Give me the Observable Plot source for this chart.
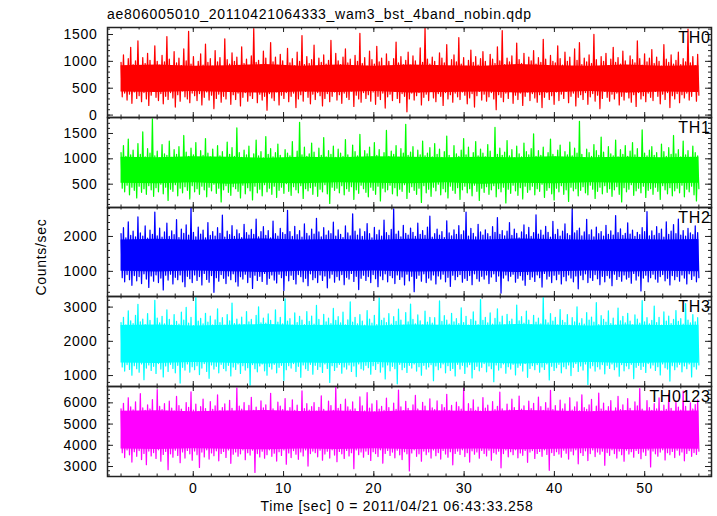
<!DOCTYPE html>
<html>
<head>
<meta charset="utf-8">
<script src="https://cdn.jsdelivr.net/npm/d3@7"></script>
<script src="https://cdn.jsdelivr.net/npm/@observablehq/plot@0.6"></script>
<style>
  html, body { margin: 0; padding: 0; background: #fff; }
  #wrap { position: relative; width: 717px; height: 516px; overflow: hidden; font-family: "Liberation Sans", Arial, sans-serif; color: #000; }
  .lbl { position: absolute; white-space: nowrap; font-size: 14px; line-height: 14px; letter-spacing: 0.7px; }
  #wrap svg { position: absolute; left: 0; overflow: visible; }
</style>
</head>
<body>
<div id="wrap">
  <div class="lbl" id="title" style="left:107px; top:7px;">ae806005010_20110421064333_wam3_bst_4band_nobin.qdp</div>
  <div class="lbl" id="ylab" style="left:41px; top:257px; transform: translate(-50%,-50%) rotate(-90deg);">Counts/sec</div>
  <div class="lbl" id="xlab" style="left:397px; top:499px; transform: translateX(-50%);">Time [sec] 0 = 2011/04/21 06:43:33.258</div>
</div>
<script>
// ---- sampling grid (time, s) ----
const tStart = -8;
const tStep = 64 / 479;
const coreTimes = [-8, -4, 0, 4, 8, 12, 16, 20, 24, 28, 32, 36, 40, 44, 48, 52, 56];

// ---- panel names / colours ----
const panelNames = ["TH0", "TH1", "TH2", "TH3", "TH0123"];
const panelColors = ["#ff0000", "#00ff00", "#0000ff", "#00ffff", "#ff00ff"];

// ---- y domains and tick labels ----
const yDomains = [[-45, 1630], [40, 1815], [280, 2830], [680, 3310], [2530, 6770]];
const yTicks0 = [0, 500, 1000, 1500];
const yTicks1 = [500, 1000, 1500];
const yTicks2 = [1000, 2000];
const yTicks3 = [1000, 2000, 3000];
const yTicks4 = [3000, 4000, 5000, 6000];
const yMinorSteps = [100, 100, 200, 200, 200];
const xTicks = [0, 10, 20, 30, 40, 50];
const xMinorStep = 2;
const xDomain = [-9.5, 57.4];

// ---- count rates (counts/sec) ----
const th0 = [980,340,1120,410,910,280,1050,390,1260,220,940,430,1010,310,1380,360,890,250,1070,420,
960,300,1150,180,1020,370,880,440,1290,330,1000,270,930,400,1110,210,990,350,1460,290,
1040,420,900,320,1180,150,970,380,1060,260,920,450,1230,340,1010,300,1560,230,950,410,
1090,360,870,270,1000,400,1140,190,930,330,1320,430,980,280,1050,370,910,120,1200,310,
990,390,1070,240,890,350,1420,300,1030,440,950,200,1160,380,1000,290,1080,410,920,170,
1270,330,960,420,1040,260,900,360,1100,310,1610,440,980,230,1020,390,940,280,1190,350,
1060,90,910,400,1350,320,990,270,1080,430,930,190,1130,370,1010,310,880,420,1240,250,
970,350,1050,410,920,140,1170,300,1000,380,1480,260,940,440,1090,330,960,210,1030,390,
1300,290,900,420,1060,360,980,170,1120,310,950,400,1020,250,1390,350,890,430,1150,280,
1010,380,940,220,1080,410,1230,330,970,290,1040,450,900,160,1110,370,1000,300,1520,240,
960,420,1070,310,910,380,1190,260,1030,430,950,200,1280,350,990,290,1060,410,920,130,
1140,340,1000,390,880,270,1050,440,1360,310,970,230,1090,400,940,350,1020,60,1170,300,
930,410,1100,280,1010,360,890,420,1250,190,980,330,1630,390,1040,270,950,440,1080,320,
1000,250,920,400,1160,350,1060,180,970,420,1310,300,900,380,1030,240,1120,410,990,340,
1440,290,950,430,1070,370,910,210,1020,320,1210,400,980,150,1090,360,930,440,1050,280,
1180,390,1000,260,880,340,1130,420,1040,300,960,100,1270,380,1010,330,1570,250,940,410,
1060,310,990,440,1100,220,920,370,1340,290,1030,410,960,180,1150,350,900,430,1080,270,
1010,400,1200,320,950,240,1070,380,980,140,1410,330,1040,420,910,290,1110,360,1000,200,
970,430,1290,270,1050,390,930,310,1170,440,1000,230,1080,350,890,410,1230,170,1020,330,
1350,380,940,290,1060,420,990,200,1120,340,960,400,1500,260,1030,370,900,120,1090,310,
1000,440,1150,330,920,260,1040,390,1260,300,980,410,1070,190,950,350,1190,280,1010,430,
880,320,1100,240,1030,380,970,160,1380,420,1050,300,930,360,1140,250,990,410,1060,330,
1220,270,960,440,1080,350,1000,210,910,390,1310,290,1040,420,980,140,1120,360,950,300,
1020,400,1170,230,940,380,1050,320,990,410,1600,280,970,350,1090,440,920,260,1130,370];
const th1 = [1120,420,1260,350,1050,480,1390,290,1080,440,1170,380,1010,230,1300,460,1090,340,1530,410,
1040,300,1200,470,1110,390,1790,260,1060,430,1150,350,1020,500,1280,310,1100,440,1070,180,
1350,400,1030,360,1180,490,1090,270,1240,420,1010,330,1460,450,1130,380,1050,210,1210,470,
1080,350,1320,410,1000,300,1160,460,1070,390,1400,250,1110,440,1040,370,1190,500,1020,320,
1260,420,1060,150,1140,390,1010,470,1330,340,1090,280,1220,450,1050,410,1610,360,1120,230,
1030,480,1170,310,1080,430,1250,370,1000,190,1100,460,1370,330,1060,400,1140,270,1020,490,
1440,350,1090,420,1200,300,1040,460,1120,240,1290,380,1070,440,1010,320,1180,510,1110,360,
1060,280,1340,450,1020,390,1150,330,1720,470,1080,220,1230,410,1050,370,1100,430,1310,300,
1130,460,1000,260,1210,400,1070,350,1420,490,1040,310,1160,120,1090,440,1250,380,1030,420,
1190,330,1110,470,1050,290,1380,410,1080,360,1010,450,1270,200,1140,390,1060,320,1480,480,
1020,410,1160,340,1100,250,1230,440,1040,380,1320,300,1070,460,1180,170,1010,420,1120,350,
1560,390,1050,480,1150,310,1090,430,1260,270,1030,400,1200,360,1110,490,1680,220,1070,340,
1130,450,1240,380,1020,300,1170,420,1080,140,1350,470,1060,330,1110,400,1220,260,1040,440,
1300,370,1090,500,1190,290,1030,410,1140,350,1450,230,1070,460,1010,380,1260,320,1100,430,
1050,200,1170,390,1400,460,1080,330,1230,410,1020,270,1120,480,1340,360,1060,180,1190,420,
1110,340,1040,450,1280,300,1150,390,1000,470,1620,250,1090,410,1210,350,1070,440,1130,130,
1360,400,1060,320,1180,480,1020,370,1250,280,1100,430,1040,210,1310,460,1140,340,1080,390,
1200,460,1490,290,1050,410,1160,360,1070,500,1230,240,1010,380,1120,430,1390,310,1090,190,
1040,420,1170,350,1270,470,1030,300,1140,390,1080,160,1330,440,1060,370,1210,410,1110,270,
1740,380,1090,450,1020,330,1190,290,1120,480,1050,400,1280,220,1160,360,1070,440,1430,310,
1130,470,1010,340,1240,410,1100,260,1060,390,1370,450,1040,300,1180,150,1090,430,1260,350,
1050,400,1150,490,1320,280,1080,370,1200,420,1030,330,1570,460,1110,240,1060,380,1170,410,
1240,300,1070,440,1120,360,1010,200,1290,470,1140,390,1050,310,1220,430,1090,270,1460,370,
1100,420,1180,330,1040,480,1350,250,1080,400,1160,350,1030,460,1250,290,1120,170,1060,410];
const th2 = [2080,820,2250,700,1960,910,2420,760,2030,600,2150,880,1990,730,2560,850,2100,650,2010,930,
2300,780,1950,540,2180,870,2060,720,2700,900,2020,680,2240,810,1980,470,2130,890,2380,750,
2000,920,2160,640,2050,830,2480,760,1970,900,2210,700,2090,560,2330,860,2040,790,2820,680,
2120,900,1990,740,2270,850,2070,610,2180,940,1960,770,2400,690,2030,880,2140,400,2010,820,
2250,720,2090,910,2610,800,1980,650,2150,870,2050,760,2310,930,2000,700,2190,580,2080,850,
1970,780,2350,920,2110,680,2040,830,2200,510,2060,890,2500,740,1990,860,2140,710,2280,940,
2030,630,2170,800,1960,900,2440,750,2080,670,2010,920,2230,820,2110,450,2060,880,2750,730,
2140,890,2000,770,2290,640,2050,910,2170,850,1980,700,2360,800,2090,590,2020,930,2210,760,
2070,820,2520,680,2130,900,1990,740,2250,870,2040,530,2160,810,2080,920,2410,690,2010,850,
2190,750,2060,910,1970,620,2300,830,2100,780,2020,940,2650,710,2150,860,2040,480,2220,800,
2000,890,2140,740,2370,850,2080,680,1960,910,2260,790,2050,560,2180,870,2010,760,2470,930,
2110,700,2030,880,2200,820,2790,650,2070,900,2150,770,1990,840,2320,610,2090,920,2040,730,
2240,860,2120,420,2000,800,2380,890,2060,720,2170,930,2030,680,2270,810,2580,750,1980,900,
2080,640,2210,870,2040,780,2140,920,1970,700,2450,830,2100,570,2020,890,2190,760,2060,850,
2310,910,2050,690,2160,800,2700,740,2010,880,2230,620,2090,930,1990,790,2350,720,2130,860,
2040,780,2190,900,2080,650,2000,840,2280,930,2120,710,2540,870,2060,380,2170,810,2020,900,
2150,730,2400,860,2030,920,2210,690,2090,800,1960,880,2130,750,2330,600,2050,910,2260,770,
2000,840,2110,710,2620,900,2070,820,2180,550,2040,940,2290,780,2120,860,1980,680,2430,890,
2060,760,2200,920,2010,640,2150,850,2360,730,2080,900,2030,810,2800,700,2100,870,2170,500,
2240,890,2020,760,2130,930,2490,680,2050,820,2190,740,1990,910,2270,790,2080,620,2140,860,
2010,700,2320,880,2060,810,2160,590,2040,920,2600,770,2110,850,2220,720,2030,900,2090,780,
2390,830,2070,660,2180,940,2000,750,2120,870,2050,440,2250,810,2140,890,2710,700,2020,820,
2160,920,2030,780,2280,690,2090,850,2210,910,1980,730,2420,800,2060,610,2150,880,2340,760,
2080,850,2500,720,2040,900,2170,810,2010,640,2230,930,2100,770,2050,870,2300,700,2110,820];
const th3 = [2550,1250,2700,1130,2480,1320,2890,1180,2600,1010,2520,1290,2760,1200,3080,1100,2570,1340,2650,880,
2490,1220,2810,1310,2610,1150,2460,1270,3200,1060,2680,1350,2540,1190,2730,960,2510,1280,2920,1120,
2640,1330,2470,1210,2780,1080,2580,1300,2500,780,2850,1240,2620,1160,2990,1340,2530,1100,2700,1260,
2460,1170,3300,1290,2590,1030,2670,1220,2510,1350,2820,1120,2560,920,2740,1310,2480,1190,2630,1270,
2950,1080,2550,1330,2690,1210,2470,1140,2780,1300,2600,990,3120,1250,2520,1180,2650,1340,2500,1060,
2710,1290,2490,1160,2870,1230,2570,720,2640,1320,2460,1200,2760,1110,3010,1280,2540,1340,2680,1140,
2530,1010,2800,1260,2610,1190,2480,1330,2920,1080,2560,1240,2700,1300,2510,860,3240,1170,2590,1290,
2660,1220,2470,1350,2830,1120,2550,1270,2730,950,2620,1310,2490,1200,2870,1150,2580,1330,2740,1040,
2500,1300,3050,1180,2640,1260,2460,1090,2790,1340,2570,1210,2680,800,2520,1290,2960,1150,2610,1240,
2720,1330,2540,1070,2850,1250,2480,1190,2630,1310,3150,1120,2560,1280,2700,970,2510,1340,2780,1200,
2590,1160,2470,1300,2900,1230,2650,1040,2530,1290,2760,1180,2490,1350,3270,1100,2610,1250,2680,900,
2550,1310,2810,1140,2500,1270,2720,1200,2580,760,2940,1330,2620,1170,2470,1240,2840,1090,2570,1300,
3090,1220,2640,1340,2510,1130,2770,1260,2600,1010,2480,1300,2880,1190,2560,1250,2700,1320,2530,850,
2690,1280,2460,1170,3180,1230,2580,1340,2750,1080,2620,1290,2500,1150,2820,1210,2570,990,2660,1330,
2520,1190,2980,1300,2550,1060,2730,1250,2470,1320,2640,930,2860,1180,2590,1270,2490,1140,3220,1240,
2610,1350,2700,1110,2540,1280,2830,1200,2500,820,2670,1310,2950,1160,2560,1230,2740,1340,2480,1070,
2790,1260,2580,1190,2650,1330,2470,1020,3060,1240,2600,1300,2720,1130,2530,1350,2880,950,2620,1210,
2490,1290,2760,1170,2560,1320,2680,1100,2510,1250,3290,1180,2630,1340,2540,870,2810,1270,2590,1150,
2700,1230,2480,1330,2930,1080,2610,1260,2550,1200,2780,1310,2470,1000,2690,1240,2570,1350,3010,1120,
2530,1280,2660,1160,2500,1340,2840,740,2620,1220,2710,1290,2560,1130,3130,1260,2490,1190,2750,1320,
2640,1050,2560,1300,2890,1210,2520,1340,2680,1170,2470,1250,2970,980,2600,1320,2730,1140,2540,1280,
2820,1200,2590,1330,2480,910,2770,1240,2650,1300,2530,1180,3190,1270,2570,1090,2690,1350,2510,1220,
2610,1310,3030,1150,2550,1260,2700,1020,2470,1340,2860,1230,2590,1190,2740,840,2520,1290,2640,1170,
2900,1250,2580,1330,2660,1110,2500,1280,3100,1200,2620,1340,2540,960,2780,1260,2570,1190,2690,1310];
const th0123 = [5720,3650,5980,3420,5600,3780,6240,3550,5810,3210,5670,3700,6050,3480,5580,3750,6430,3330,5760,3620,
5640,3090,5900,3730,5710,3500,6150,3660,5590,3380,6620,3790,5830,3250,5680,3570,5960,3710,5610,2850,
6080,3600,5750,3440,5620,3770,6300,3520,5870,3180,5700,3690,5580,3400,6010,3760,5790,3600,6520,3300,
5660,3730,5940,3560,5600,2960,5820,3680,6180,3450,5730,3790,5570,3350,6060,3640,5690,3510,5860,3740,
6370,3270,5630,3620,5780,3710,5950,3430,5610,3780,6120,3150,5740,3580,5590,3690,6700,3490,5850,3600,
5700,3780,6010,3320,5580,3650,5880,3540,6260,3770,5650,2720,5800,3610,5620,3450,6090,3720,5760,3390,
5910,3560,5600,3790,6450,3480,5720,3630,5580,3260,6030,3700,5840,3520,5680,3780,6200,3110,5610,3640,
5770,3420,6140,3750,5640,3580,5890,3340,5590,3690,6560,3500,5730,3780,5960,3020,5660,3610,5820,3730,
6010,3650,5610,3460,5790,3770,6330,3300,5690,3590,5580,3720,6080,3400,5870,3790,5640,3540,6750,3230,
5740,3710,5930,3600,5600,3380,6170,3760,5810,3500,5670,3650,6040,2900,5720,3780,5590,3560,6280,3690,
5860,3440,5620,3730,6480,3570,5750,3290,5950,3700,5580,3610,6110,3470,5700,3790,5830,3160,5640,3620,
6220,3760,5780,3520,5600,3680,5990,3410,5690,3770,6600,3550,5810,3330,5630,3700,6070,3600,5740,2790,
5580,3640,5900,3790,6350,3480,5710,3600,5620,3250,6020,3730,5850,3560,5590,3690,6190,3400,5760,3780,
5680,3510,6090,3660,5610,3350,5920,3760,5770,3590,6400,3440,5650,3700,5880,3080,5600,3620,6030,3730,
5820,3570,5700,3790,6690,3470,5580,3650,5960,3210,5730,3740,6140,3580,5640,3690,5800,3390,5610,3760,
6250,3620,5750,3500,5890,3770,5590,3300,6060,3660,5680,3590,5830,3720,6500,2940,5720,3610,5600,3780,
5940,3460,5660,3700,6170,3560,5780,3790,5620,3410,6320,3640,5700,3530,5860,3760,5590,3200,6080,3680,
5730,3750,5980,3380,5610,3620,6270,3710,5820,3480,5640,3790,6010,3570,5750,2820,6590,3660,5680,3520,
5870,3700,5600,3590,6130,3440,5720,3770,5950,3630,5580,3350,6240,3720,5660,3550,5810,3790,6050,3130,
5620,3650,6380,3520,5770,3740,5690,3280,5900,3610,6160,3780,5600,3470,5840,3690,6460,3580,5710,3720,
5990,3060,5650,3660,5820,3530,6100,3790,5590,3610,5760,3400,6300,3730,5680,3560,5910,3250,5630,3770,
6200,3590,5740,3700,5600,3440,6040,3760,5860,3620,6670,3370,5700,3690,5590,3520,6110,3780,5780,2980,
5650,3730,5960,3600,5720,3490,6230,3680,5610,3790,5890,3310,5690,3650,6420,3560,5740,3710,5600,3420,
6070,3770,5800,3540,5660,3690,6550,3270,5830,3620,5590,3750,6000,3480,5710,3660,5920,3570,6140,3720];

// ---- fully dense core of each band (lower / upper edge), every 4 s ----
const th0Lo = [430,420,440,420,410,430,420,440,410,420,430,410,420,440,410,430,420];
const th0Hi = [920,930,910,920,940,910,930,910,930,920,910,940,920,910,930,910,920];
const th1Lo = [520,510,530,500,520,510,530,520,510,530,500,520,510,530,520,510,520];
const th1Hi = [1030,1020,1040,1030,1010,1030,1020,1040,1030,1020,1030,1020,1040,1020,1030,1020,1030];
const th2Lo = [1000,980,1010,990,970,1000,990,1010,980,990,1000,970,990,1010,980,1000,990];
const th2Hi = [1900,1920,1890,1910,1930,1900,1910,1890,1920,1910,1900,1930,1910,1890,1920,1900,1910];
const th3Lo = [1370,1350,1380,1360,1340,1370,1350,1380,1350,1360,1370,1340,1360,1380,1350,1370,1360];
const th3Hi = [2460,2480,2450,2470,2490,2460,2470,2450,2480,2470,2460,2490,2470,2450,2480,2460,2470];
const th4Lo = [3820,3800,3840,3810,3790,3830,3800,3840,3800,3810,3830,3790,3810,3840,3800,3820,3810];
const th4Hi = [5600,5630,5580,5610,5640,5590,5620,5570,5630,5610,5590,5640,5620,5580,5630,5600,5610];

const seriesList = [th0, th1, th2, th3, th0123];
const coreLoList = [th0Lo, th1Lo, th2Lo, th3Lo, th4Lo];
const coreHiList = [th0Hi, th1Hi, th2Hi, th3Hi, th4Hi];
const yTickList = [yTicks0, yTicks1, yTicks2, yTicks3, yTicks4];

// ---- layout ----
const W = 717, mL = 107, mR = 6;
const panelTop0 = 27, panelH = 89.8;
const innerW = W - mL - mR;
const tickFont = "Liberation Sans, Arial, sans-serif";
const axisColor = "#222";

const wrap = document.getElementById("wrap");

seriesList.forEach((vals, p) => {
  const last = p === seriesList.length - 1;
  const top = panelTop0 + p * panelH;
  const svgTop = Math.round(top) - 1;
  const innerH = Math.round(top + panelH) - Math.round(top);
  const mT = 1, mB = last ? 30 : 1;
  const H = innerH + mT + mB;
  const data = vals.map((v, i) => ({t: tStart + i * tStep, v}));
  const core = coreTimes.map((t, i) => ({t, lo: coreLoList[p][i], hi: coreHiList[p][i]}));
  const [y0, y1] = yDomains[p];
  const yMin = d3.range(Math.ceil(y0 / yMinorSteps[p]) * yMinorSteps[p], y1, yMinorSteps[p]);
  const xMin = d3.range(-8, 57.4, xMinorStep);
  const color = panelColors[p];

  const marks = [
    Plot.areaY(core, {x: "t", y1: "lo", y2: "hi", fill: color, clip: true}),
    Plot.line(data, {x: "t", y: "v", stroke: color, strokeWidth: 1.25, clip: true}),
    // x ticks, inward, bottom and top
    Plot.ruleX(xMin, {x: d => d, insetTop: innerH - 2.5, stroke: axisColor, strokeWidth: 1}),
    Plot.ruleX(xMin, {x: d => d, insetBottom: innerH - 2.5, stroke: axisColor, strokeWidth: 1}),
    Plot.ruleX(xTicks, {x: d => d, insetTop: innerH - 5, stroke: axisColor, strokeWidth: 1}),
    Plot.ruleX(xTicks, {x: d => d, insetBottom: innerH - 5, stroke: axisColor, strokeWidth: 1}),
    // y ticks, inward, left and right
    Plot.ruleY(yMin, {y: d => d, insetRight: innerW - 3, stroke: axisColor, strokeWidth: 1}),
    Plot.ruleY(yMin, {y: d => d, insetLeft: innerW - 3, stroke: axisColor, strokeWidth: 1}),
    Plot.ruleY(yTickList[p], {y: d => d, insetRight: innerW - 6, stroke: axisColor, strokeWidth: 1}),
    Plot.ruleY(yTickList[p], {y: d => d, insetLeft: innerW - 6, stroke: axisColor, strokeWidth: 1}),
    Plot.frame({stroke: axisColor, strokeWidth: 1.5}),
    Plot.axisY(yTickList[p], {tickSize: 0, tickPadding: 10, label: null, tickFormat: d => String(d),
      fontSize: 14, fontFamily: tickFont, fill: "#000"}),
    Plot.text([panelNames[p]], {text: d => d, frameAnchor: "top-right", textAnchor: "end", lineAnchor: "top",
      dx: -1, dy: 4, fontSize: 16, fontFamily: tickFont, fill: "#000"})
  ];
  if (last) {
    marks.push(Plot.axisX(xTicks, {tickSize: 0, tickPadding: 7, label: null, tickFormat: d => String(d),
      fontSize: 14, fontFamily: tickFont, fill: "#000"}));
  }

  const chart = Plot.plot({
    width: W,
    height: H,
    marginLeft: mL,
    marginRight: mR,
    marginTop: mT,
    marginBottom: mB,
    x: {domain: xDomain, axis: null},
    y: {domain: yDomains[p], axis: null},
    style: {fontFamily: tickFont, fontSize: "14px", letterSpacing: "0.7px", background: "transparent", overflow: "visible"},
    marks
  });
  chart.style.top = svgTop + "px";
  wrap.appendChild(chart);
});
</script>
</body>
</html>
